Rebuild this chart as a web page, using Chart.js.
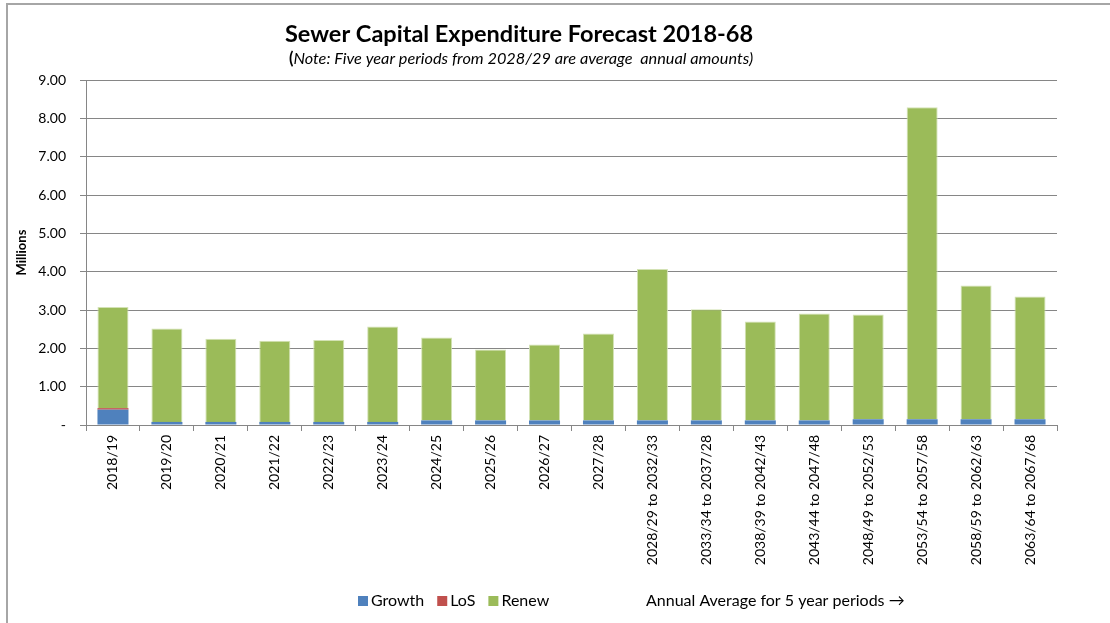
<!DOCTYPE html>
<html>
<head>
<meta charset="utf-8">
<title>Sewer Capital Expenditure Forecast 2018-68</title>
<script src="https://cdn.jsdelivr.net/npm/chart.js@4.4.0/dist/chart.umd.min.js"></script>
<style>
  html, body { margin: 0; padding: 0; background: #fff; overflow: hidden; }
  #capexChart { position: absolute; left: 0; top: 0; }
</style>
</head>
<body>
<canvas id="capexChart" width="1110" height="623"></canvas>
<script>
// periods: single years to 2027/28, then 5 year blocks (annual averages)
const categories = [
    '2018/19', '2019/20', '2020/21', '2021/22', '2022/23', '2023/24', '2024/25',
    '2025/26', '2026/27', '2027/28',
    '2028/29 to 2032/33', '2033/34 to 2037/28', '2038/39 to 2042/43',
    '2043/44 to 2047/48', '2048/49 to 2052/53', '2053/54 to 2057/58',
    '2058/59 to 2062/63', '2063/64 to 2067/68'
];
// $ millions
const growth = [0.40, 0.08, 0.08, 0.08, 0.08, 0.08, 0.12, 0.12, 0.12, 0.12, 0.12, 0.12, 0.12, 0.12, 0.15, 0.15, 0.15, 0.15];
const los    = [0.04, 0, 0, 0, 0, 0, 0, 0, 0, 0, 0, 0, 0, 0, 0, 0, 0, 0];
const renew  = [2.64, 2.44, 2.17, 2.12, 2.14, 2.49, 2.16, 1.85, 1.98, 2.27, 3.95, 2.90, 2.58, 2.79, 2.73, 8.14, 3.49, 3.20];
const yTickLabels = ['-', '1.00', '2.00', '3.00', '4.00', '5.00', '6.00', '7.00', '8.00', '9.00'];

const FONT = 'Lato, "Open Sans", sans-serif';
const axisGrey = '#868686';

// frame, title, subtitle and legend drawn straight onto the canvas
const decorations = {
    id: 'decorations',
    beforeDraw(chart) {
        const ctx = chart.ctx;
        ctx.save();
        ctx.strokeStyle = '#a6a6a6';
        ctx.lineWidth = 2;
        ctx.beginPath();
        ctx.moveTo(7, 623);
        ctx.lineTo(7, 4);
        ctx.lineTo(1110, 4);
        ctx.stroke();
        ctx.restore();
    },
    afterDraw(chart) {
        const ctx = chart.ctx;
        ctx.save();
        ctx.fillStyle = '#000';
        ctx.textBaseline = 'middle';

        ctx.textAlign = 'center';
        ctx.font = 'bold 23.5px ' + FONT;
        ctx.fillText('Sewer Capital Expenditure Forecast 2018-68', 519, 34);

        // subtitle: bold bracket then italic note
        const open = '(';
        const note = 'Note: Five year periods from 2028/29 are average  annual amounts)';
        ctx.font = 'bold 16.3px ' + FONT;
        const w1 = ctx.measureText(open).width;
        ctx.font = 'italic 16.3px ' + FONT;
        const w2 = ctx.measureText(note).width;
        let x = 521 - (w1 + w2) / 2;
        ctx.textAlign = 'left';
        ctx.font = 'bold 16.3px ' + FONT;
        ctx.fillText(open, x, 59);
        ctx.font = 'italic 16.3px ' + FONT;
        ctx.fillText(note, x + w1, 59);

        // legend
        const ly = 601;
        x = 358;
        ctx.font = '16px ' + FONT;
        chart.data.datasets.forEach(ds => {
            ctx.fillStyle = ds.backgroundColor;
            ctx.fillRect(x, ly - 5, 10, 10);
            ctx.fillStyle = '#000';
            ctx.fillText(ds.label, x + 13, ly);
            x += 13 + ctx.measureText(ds.label).width + 13;
        });
        ctx.fillText('Annual Average for 5 year periods \u2192', 646, ly);
        ctx.restore();
    }
};

new Chart(document.getElementById('capexChart'), {
    type: 'bar',
    data: {
        labels: categories,
        datasets: [
            { label: 'Growth', data: growth, backgroundColor: '#4f81bd' },
            { label: 'LoS', data: los, backgroundColor: '#c0504d' },
            { label: 'Renew', data: renew, backgroundColor: '#9bbb59', borderColor: '#d3e2b4', borderWidth: { top: 1, left: 1, right: 1, bottom: 0 } }
        ]
    },
    options: {
        responsive: false,
        animation: false,
        devicePixelRatio: 1,
        layout: { padding: { left: 8, top: 80, right: 53, bottom: 0 } },
        datasets: { bar: { categoryPercentage: 1, barPercentage: 0.575 } },
        plugins: {
            legend: { display: false },
            title: { display: false },
            tooltip: { enabled: false }
        },
        scales: {
            x: {
                stacked: true,
                grid: { drawOnChartArea: false, drawTicks: true, tickLength: 6, color: axisGrey, offset: true },
                border: { color: axisGrey, width: 1 },
                ticks: { autoSkip: false, maxRotation: 90, minRotation: 90, padding: 4, color: '#000', font: { family: FONT, size: 14 } },
                afterFit(scale) { scale.height = 198; }
            },
            y: {
                stacked: true,
                min: 0,
                max: 9,
                ticks: {
                    stepSize: 1,
                    padding: 14,
                    color: '#000',
                    font: { family: FONT, size: 14 },
                    callback: (v, i) => yTickLabels[i]
                },
                grid: { color: axisGrey, tickLength: 6 },
                border: { color: axisGrey, width: 1 },
                title: { display: true, text: 'Millions', color: '#000', font: { family: FONT, size: 13, weight: 'bold' }, padding: { top: 6, bottom: 0 } },
                afterFit(scale) { scale.width = 78; }
            }
        }
    },
    plugins: [decorations]
});
</script>
</body>
</html>
